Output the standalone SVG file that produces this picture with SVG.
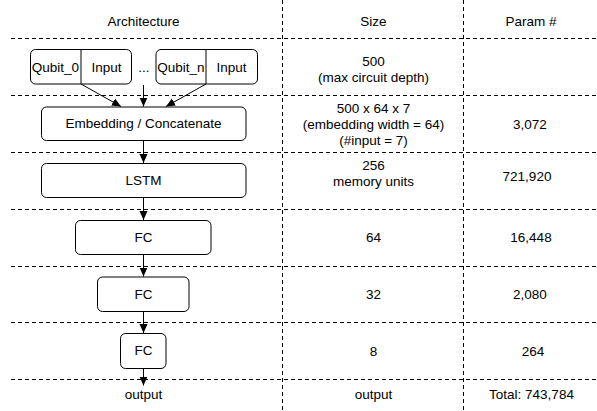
<svg xmlns="http://www.w3.org/2000/svg" width="597" height="411" viewBox="0 0 597 411">
  <style>
    text { font-family: "Liberation Sans", Arial, sans-serif; font-size: 13.5px; fill: #000; text-anchor: middle; }
    .grid { stroke: #000; stroke-width: 1; stroke-dasharray: 4 3; fill: none; }
    .box { fill: #fff; stroke: #000; stroke-width: 1; }
    .div { stroke: #000; stroke-width: 1; }
    .edge { stroke: #000; stroke-width: 1; fill: none; marker-end: url(#arrow); }
  </style>
  <defs>
    <marker id="arrow" markerUnits="userSpaceOnUse" markerWidth="10" markerHeight="10" viewBox="0 0 10 10" refX="9" refY="5" orient="auto">
      <path d="M0,1 L9,5 L0,9 Z" fill="#000"/>
    </marker>
  </defs>
  <rect width="597" height="411" fill="#fff"/>

  <g id="grid">
    <line class="grid" x1="11" y1="38.5" x2="597" y2="38.5"/>
    <line class="grid" x1="11" y1="95.5" x2="597" y2="95.5"/>
    <line class="grid" x1="11" y1="152.5" x2="597" y2="152.5"/>
    <line class="grid" x1="11" y1="209.5" x2="597" y2="209.5"/>
    <line class="grid" x1="11" y1="266.5" x2="597" y2="266.5"/>
    <line class="grid" x1="11" y1="322.5" x2="597" y2="322.5"/>
    <line class="grid" x1="11" y1="379.5" x2="597" y2="379.5"/>
    <line class="grid" x1="282.5" y1="0" x2="282.5" y2="411"/>
    <line class="grid" x1="463.5" y1="0" x2="463.5" y2="411"/>
  </g>

  <g id="headers">
    <text x="143.5" y="26">Architecture</text>
    <text x="373.5" y="26">Size</text>
    <text x="531" y="26">Param #</text>
  </g>

  <g id="connectors">
    <line class="edge" x1="81" y1="84" x2="121" y2="106.5"/>
    <line class="edge" x1="143.5" y1="85" x2="143.5" y2="106.5"/>
    <line class="edge" x1="206" y1="84" x2="166" y2="106.5"/>
    <line class="edge" x1="143.5" y1="140.5" x2="143.5" y2="163"/>
    <line class="edge" x1="143.5" y1="197.5" x2="143.5" y2="220"/>
    <line class="edge" x1="143.5" y1="254.5" x2="143.5" y2="276.5"/>
    <line class="edge" x1="143.5" y1="311.5" x2="143.5" y2="333"/>
    <line class="edge" x1="143.5" y1="368.5" x2="143.5" y2="385.5"/>
  </g>

  <g id="qubit0">
    <rect class="box" x="30.5" y="49.5" width="101" height="34.5" rx="5"/>
    <line class="div" x1="81" y1="49.5" x2="81" y2="84"/>
    <text x="55.5" y="71.5">Qubit_0</text>
    <text x="106.5" y="71.5">Input</text>
  </g>
  <g id="ellipsis">
    <text x="144" y="71.5">...</text>
  </g>
  <g id="qubitn">
    <rect class="box" x="156" y="49.5" width="101.5" height="34.5" rx="5"/>
    <line class="div" x1="206" y1="49.5" x2="206" y2="84"/>
    <text x="181" y="71.5">Qubit_n</text>
    <text x="231.5" y="71.5">Input</text>
  </g>

  <g id="embedding">
    <rect class="box" x="41.5" y="107" width="204.5" height="33.5" rx="5"/>
    <text x="143.5" y="128">Embedding / Concatenate</text>
  </g>
  <g id="lstm">
    <rect class="box" x="41.5" y="163.5" width="204.5" height="34" rx="5"/>
    <text x="143.5" y="185">LSTM</text>
  </g>
  <g id="fc1">
    <rect class="box" x="75.5" y="220.5" width="135.5" height="34" rx="5"/>
    <text x="143.5" y="241.5">FC</text>
  </g>
  <g id="fc2">
    <rect class="box" x="97.5" y="277" width="91.5" height="34.5" rx="5"/>
    <text x="143.5" y="299">FC</text>
  </g>
  <g id="fc3">
    <rect class="box" x="120.5" y="333.5" width="45.5" height="35" rx="5"/>
    <text x="143.5" y="355">FC</text>
  </g>
  <g id="output">
    <text x="143.5" y="398.5">output</text>
  </g>

  <g id="size-column">
    <text x="373.5" y="65.5">500</text>
    <text x="373.5" y="81.5">(max circuit depth)</text>
    <text x="373.5" y="112.5">500 x 64 x 7</text>
    <text x="373.5" y="128.5">(embedding width = 64)</text>
    <text x="373.5" y="144.5">(#input = 7)</text>
    <text x="373.5" y="169.5">256</text>
    <text x="373.5" y="185.5">memory units</text>
    <text x="373.5" y="242">64</text>
    <text x="373.5" y="298.5">32</text>
    <text x="373.5" y="356">8</text>
    <text x="373.5" y="398.5">output</text>
  </g>

  <g id="param-column">
    <text x="530" y="128.5">3,072</text>
    <text x="527" y="180.5">721,920</text>
    <text x="531" y="242">16,448</text>
    <text x="530" y="298.5">2,080</text>
    <text x="533" y="356">264</text>
    <text x="531.5" y="398.5">Total: 743,784</text>
  </g>
</svg>
